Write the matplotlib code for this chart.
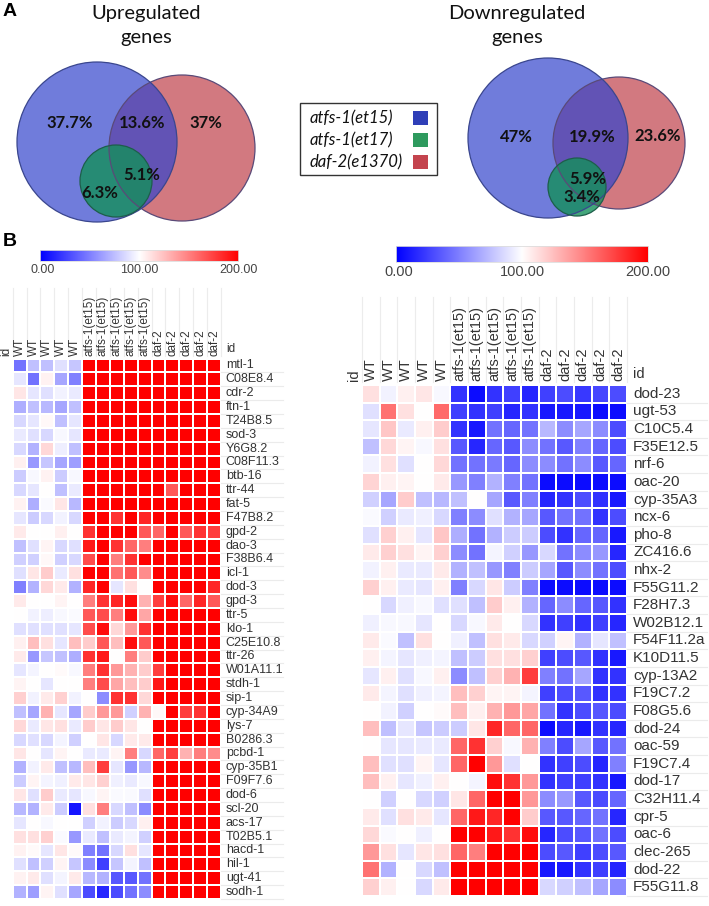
import numpy as np
import matplotlib
matplotlib.use("Agg")
import matplotlib.pyplot as plt
from matplotlib.colors import LinearSegmentedColormap
from matplotlib.patches import Circle, Rectangle

W, H = 709, 906

# ---- panel A data ----
up_pct = ["37.7%", "13.6%", "37%", "5.1%", "6.3%"]
down_pct = ["47%", "19.9%", "23.6%", "5.9%", "3.4%"]
legend_labels = ["atfs-1(et15)", "atfs-1(et17)", "daf-2(e1370)"]
legend_colors = ["#2f3fb8", "#2e9a5e", "#c4444e"]

# ---- panel B data ----
samples = ["WT"] * 5 + ["atfs-1(et15)"] * 5 + ["daf-2"] * 5
cbar_ticks = ["0.00", "100.00", "200.00"]

up_genes = ["mtl-1", "C08E8.4", "cdr-2", "ftn-1", "T24B8.5", "sod-3", "Y6G8.2",
            "C08F11.3", "btb-16", "ttr-44", "fat-5", "F47B8.2", "gpd-2", "dao-3",
            "F38B6.4", "icl-1", "dod-3", "gpd-3", "ttr-5", "klo-1", "C25E10.8",
            "ttr-26", "W01A11.1", "stdh-1", "sip-1", "cyp-34A9", "lys-7", "B0286.3",
            "pcbd-1", "cyp-35B1", "F09F7.6", "dod-6", "scl-20", "acs-17", "T02B5.1",
            "hacd-1", "hil-1", "ugt-41", "sodh-1"]
up_values = [
    [45, 75, 75, 88, 78, 200, 200, 200, 200, 200, 200, 200, 200, 200, 200],
    [90, 45, 105, 65, 50, 200, 200, 200, 200, 200, 200, 200, 200, 200, 200],
    [110, 90, 88, 95, 92, 200, 200, 200, 200, 200, 200, 200, 200, 200, 200],
    [68, 75, 72, 65, 75, 200, 200, 200, 200, 200, 200, 200, 200, 200, 200],
    [85, 90, 103, 75, 90, 200, 200, 200, 200, 200, 200, 200, 200, 200, 200],
    [92, 88, 85, 97, 90, 200, 200, 200, 200, 200, 200, 200, 200, 200, 200],
    [85, 70, 115, 93, 75, 200, 200, 200, 200, 200, 200, 200, 200, 200, 200],
    [106, 60, 78, 65, 62, 200, 200, 200, 200, 200, 200, 200, 200, 200, 200],
    [80, 97, 105, 80, 97, 200, 200, 200, 200, 200, 200, 200, 200, 200, 200],
    [85, 90, 100, 75, 92, 200, 200, 200, 200, 200, 200, 165, 200, 200, 200],
    [105, 68, 98, 110, 72, 200, 200, 200, 200, 200, 200, 200, 200, 200, 200],
    [90, 80, 85, 95, 85, 200, 200, 180, 200, 185, 200, 200, 200, 200, 200],
    [108, 100, 100, 106, 100, 180, 200, 200, 200, 165, 160, 200, 165, 180, 175],
    [75, 88, 104, 85, 88, 190, 200, 180, 160, 150, 200, 200, 200, 200, 200],
    [82, 82, 103, 82, 85, 170, 200, 150, 180, 200, 200, 200, 200, 200, 200],
    [88, 110, 120, 92, 112, 200, 200, 155, 165, 145, 200, 200, 200, 200, 200],
    [50, 70, 115, 108, 70, 185, 200, 90, 112, 100, 200, 200, 200, 200, 185],
    [108, 100, 100, 104, 100, 150, 180, 185, 195, 130, 175, 195, 160, 185, 165],
    [100, 95, 93, 97, 98, 165, 170, 150, 195, 135, 200, 200, 200, 200, 200],
    [88, 88, 88, 88, 90, 170, 195, 115, 140, 180, 200, 200, 200, 200, 200],
    [106, 125, 112, 90, 125, 120, 165, 125, 195, 165, 200, 200, 200, 200, 200],
    [108, 60, 78, 75, 68, 180, 190, 100, 150, 120, 200, 200, 200, 200, 200],
    [90, 96, 100, 102, 97, 150, 180, 140, 130, 120, 175, 200, 200, 200, 200],
    [104, 100, 90, 100, 100, 150, 170, 135, 125, 120, 190, 200, 200, 200, 200],
    [118, 95, 108, 118, 95, 100, 55, 180, 180, 115, 200, 200, 200, 200, 200],
    [75, 65, 130, 90, 65, 120, 140, 140, 82, 130, 103, 200, 175, 180, 200],
    [115, 92, 110, 112, 92, 120, 110, 120, 110, 100, 200, 200, 200, 200, 200],
    [85, 88, 85, 96, 82, 100, 110, 85, 108, 108, 200, 200, 200, 200, 200],
    [110, 100, 90, 104, 100, 92, 92, 104, 150, 85, 160, 175, 130, 150, 145],
    [70, 95, 108, 75, 72, 125, 175, 90, 60, 72, 200, 200, 200, 200, 200],
    [80, 104, 96, 94, 108, 110, 118, 94, 92, 97, 200, 200, 200, 200, 200],
    [110, 88, 120, 92, 90, 97, 104, 98, 98, 88, 200, 200, 200, 200, 200],
    [72, 70, 108, 80, 8, 112, 150, 85, 75, 55, 200, 200, 200, 200, 200],
    [90, 100, 97, 100, 100, 82, 95, 80, 85, 106, 200, 200, 200, 200, 200],
    [112, 112, 118, 98, 60, 92, 75, 92, 96, 82, 200, 200, 200, 200, 200],
    [105, 102, 90, 110, 102, 50, 45, 85, 112, 90, 200, 200, 200, 200, 200],
    [88, 75, 82, 104, 78, 55, 25, 78, 96, 75, 200, 200, 200, 200, 200],
    [105, 108, 88, 96, 108, 72, 70, 35, 35, 45, 200, 200, 200, 200, 200],
    [70, 62, 104, 88, 65, 30, 15, 30, 45, 55, 200, 200, 200, 200, 200],
]

down_genes = ["dod-23", "ugt-53", "C10C5.4", "F35E12.5", "nrf-6", "oac-20", "cyp-35A3",
              "ncx-6", "pho-8", "ZC416.6", "nhx-2", "F55G11.2", "F28H7.3", "W02B12.1",
              "F54F11.2a", "K10D11.5", "cyp-13A2", "F19C7.2", "F08G5.6", "dod-24",
              "oac-59", "F19C7.4", "dod-17", "C32H11.4", "cpr-5", "oac-6", "clec-265",
              "dod-22", "F55G11.8"]
down_values = [
    [112, 95, 106, 110, 97, 20, 5, 20, 25, 15, 25, 30, 22, 28, 30],
    [88, 155, 112, 100, 158, 25, 20, 25, 15, 20, 10, 10, 10, 5, 5],
    [90, 122, 92, 106, 120, 20, 10, 45, 40, 45, 72, 55, 65, 55, 30],
    [75, 115, 104, 97, 112, 35, 15, 40, 35, 55, 45, 35, 50, 40, 30],
    [95, 112, 88, 100, 115, 45, 45, 48, 40, 55, 55, 45, 55, 35, 40],
    [117, 106, 104, 100, 108, 60, 50, 70, 50, 45, 5, 5, 5, 5, 5],
    [82, 65, 120, 75, 72, 75, 100, 65, 35, 50, 15, 20, 30, 20, 10],
    [98, 82, 92, 94, 85, 50, 55, 88, 70, 65, 35, 45, 45, 20, 30],
    [88, 118, 106, 90, 122, 68, 45, 70, 80, 80, 30, 20, 40, 40, 10],
    [108, 118, 112, 104, 118, 55, 45, 96, 82, 60, 85, 45, 55, 60, 15],
    [95, 106, 92, 92, 108, 70, 75, 60, 50, 80, 65, 35, 55, 45, 30],
    [118, 106, 92, 90, 106, 50, 85, 110, 80, 50, 5, 5, 5, 5, 5],
    [100, 85, 94, 97, 88, 88, 75, 120, 106, 70, 40, 55, 40, 35, 20],
    [94, 97, 97, 90, 100, 85, 97, 108, 100, 85, 20, 25, 20, 25, 15],
    [108, 98, 75, 112, 100, 94, 75, 112, 108, 85, 82, 104, 70, 90, 75],
    [106, 96, 90, 94, 96, 75, 80, 112, 112, 118, 25, 30, 35, 20, 10],
    [90, 106, 88, 97, 106, 55, 75, 118, 130, 175, 50, 45, 65, 20, 20],
    [108, 96, 88, 94, 96, 125, 118, 104, 104, 96, 25, 30, 35, 20, 20],
    [100, 95, 82, 100, 102, 125, 106, 130, 140, 135, 45, 20, 30, 35, 30],
    [125, 75, 90, 78, 80, 80, 110, 185, 160, 160, 5, 15, 10, 20, 15],
    [100, 90, 90, 92, 92, 160, 180, 118, 97, 130, 50, 30, 65, 35, 45],
    [125, 88, 88, 104, 90, 160, 200, 140, 88, 100, 20, 25, 30, 15, 50],
    [125, 106, 90, 94, 106, 100, 96, 195, 180, 140, 20, 25, 25, 20, 10],
    [100, 82, 100, 85, 82, 110, 160, 200, 200, 140, 55, 60, 35, 30, 40],
    [108, 88, 112, 108, 90, 160, 190, 185, 200, 120, 35, 35, 40, 45, 15],
    [115, 98, 100, 94, 100, 200, 200, 190, 180, 195, 15, 30, 35, 45, 30],
    [140, 112, 90, 110, 112, 160, 150, 200, 200, 200, 30, 35, 25, 30, 35],
    [155, 70, 100, 85, 75, 200, 200, 200, 200, 200, 10, 10, 20, 25, 15],
    [118, 106, 100, 85, 108, 200, 200, 200, 200, 200, 85, 82, 75, 65, 55],
]

cmap = LinearSegmentedColormap.from_list("bwr2", ["#0000ff", "#ffffff", "#ff0000"])
venn_font = "Lato"
hm_font = "Liberation Sans"


def box(x0, y0, x1, y1):
    # pixel box (top-left origin) -> figure fraction rect
    return [x0 / W, 1 - y1 / H, (x1 - x0) / W, (y1 - y0) / H]


fig = plt.figure(figsize=(W / 100, H / 100), dpi=100)

# ---------- panel A: venn diagrams ----------
va = fig.add_axes([0, 0, 1, 1])
va.set_xlim(0, W)
va.set_ylim(H, 0)
va.axis("off")

blue, red, green = "#3344cc", "#c0404a", "#14905a"

def venn(cb, rb, cr, cg, rr, rg, labels, lpos):
    va.add_patch(Circle(cr, rr, facecolor=red, alpha=0.7, edgecolor="none"))
    va.add_patch(Circle(cb, rb, facecolor=blue, alpha=0.7, edgecolor="none"))
    va.add_patch(Circle(cg, rg, facecolor=green, alpha=0.8, edgecolor="none"))
    va.add_patch(Circle(cr, rr, facecolor="none", edgecolor="#5a4a78", lw=0.9))
    va.add_patch(Circle(cb, rb, facecolor="none", edgecolor="#3a468e", lw=0.9))
    va.add_patch(Circle(cg, rg, facecolor="none", edgecolor="#1d5e4a", lw=0.9))
    for t, (x, y) in zip(labels, lpos):
        va.text(x, y, t, ha="center", va="center", fontsize=12, fontweight="bold",
                family=venn_font, color="#111111")

venn((97, 142), 80, (182, 148), (116, 181), 73, 36, up_pct,
     [(70, 123), (142, 123), (206, 123), (142, 175), (100, 193)])
venn((548, 138), 80, (619, 143), (577, 187), 66, 29, down_pct,
     [(516, 137), (592, 137), (658, 136), (588, 179), (582, 197)])

for x, (t1, t2) in [(146, ("Upregulated", "genes")), (517, ("Downregulated", "genes"))]:
    va.text(x, 13, t1, ha="center", va="center", fontsize=14.5, family=venn_font, color="#111111")
    va.text(x, 38, t2, ha="center", va="center", fontsize=14.5, family=venn_font, color="#111111")

va.text(3, 12, "A", ha="left", va="center", fontsize=14, fontweight="bold", family="Liberation Sans")
va.text(3, 242, "B", ha="left", va="center", fontsize=14, fontweight="bold", family="Liberation Sans")

va.add_patch(Rectangle((300, 103), 137, 72, facecolor="white", edgecolor="#333333", lw=1))
for i, (lab, col) in enumerate(zip(legend_labels, legend_colors)):
    y = 118 + 22 * i
    va.text(310, y, lab, ha="left", va="center", fontsize=12, style="italic",
            family=venn_font, color="#111111")
    va.add_patch(Rectangle((413, y - 7), 15, 14, facecolor=col, edgecolor="none"))

# ---------- panel B: heatmaps ----------
def colorbar(rect, fs, label_y):
    cax = fig.add_axes(box(*rect))
    cax.imshow(np.linspace(0, 200, 256)[None, :], aspect="auto", cmap=cmap, vmin=0, vmax=200)
    cax.set_xticks([])
    cax.set_yticks([])
    for s in cax.spines.values():
        s.set_color("#dddddd")
        s.set_linewidth(0.6)
    x0, x1 = rect[0], rect[2]
    for t, x in zip(cbar_ticks, [x0 + 3, (x0 + x1) / 2, x1]):
        va.text(x, label_y, t, ha="center", va="center", fontsize=fs, family=hm_font, color="#444444")


def heatmap(rect, genes, values, fs, lab_ext, head_top, left_id=True):
    ax = fig.add_axes(box(*rect))
    data = np.array(values, dtype=float)
    n, m = data.shape
    ax.pcolormesh(data, cmap=cmap, vmin=0, vmax=200, edgecolors="white", linewidth=1.2)
    ax.set_xlim(0, m)
    ax.set_ylim(n, 0)
    ax.axis("off")
    for i, g in enumerate(genes):
        ax.text(m + 0.35, i + 0.5, g, ha="left", va="center", fontsize=fs,
                family=hm_font, color="#333333", clip_on=False)
        ax.plot([m, m + lab_ext], [i + 1, i + 1], color="#ebebeb", lw=0.8, clip_on=False)
    for j in range(m + 1):
        ax.plot([j, j], [-head_top, -0.15], color="#ececec", lw=0.8, clip_on=False)
    for j, s in enumerate(samples):
        ax.text(j + 0.5, -0.2, s, rotation=90, ha="center", va="bottom", fontsize=fs - 0.5,
                family=hm_font, color="#333333", clip_on=False)
    if left_id:
        ax.text(-0.45, -0.2, "id", rotation=90, ha="center", va="bottom", fontsize=fs - 0.5,
                family=hm_font, color="#333333", clip_on=False)
    ax.text(m + 0.35, -0.25, "id", ha="left", va="bottom", fontsize=fs - 0.5,
            family=hm_font, color="#333333", clip_on=False)


colorbar((40, 250, 238, 261), 9, 270)
colorbar((396, 246, 648, 262), 10.5, 272)
heatmap((12.7, 358.5, 221, 899), up_genes, up_values, 9, 4.5, 5.1)
heatmap((362, 385, 627, 896), down_genes, down_values, 11, 4.5, 5.0)

fig.savefig("out.png", dpi=100)
